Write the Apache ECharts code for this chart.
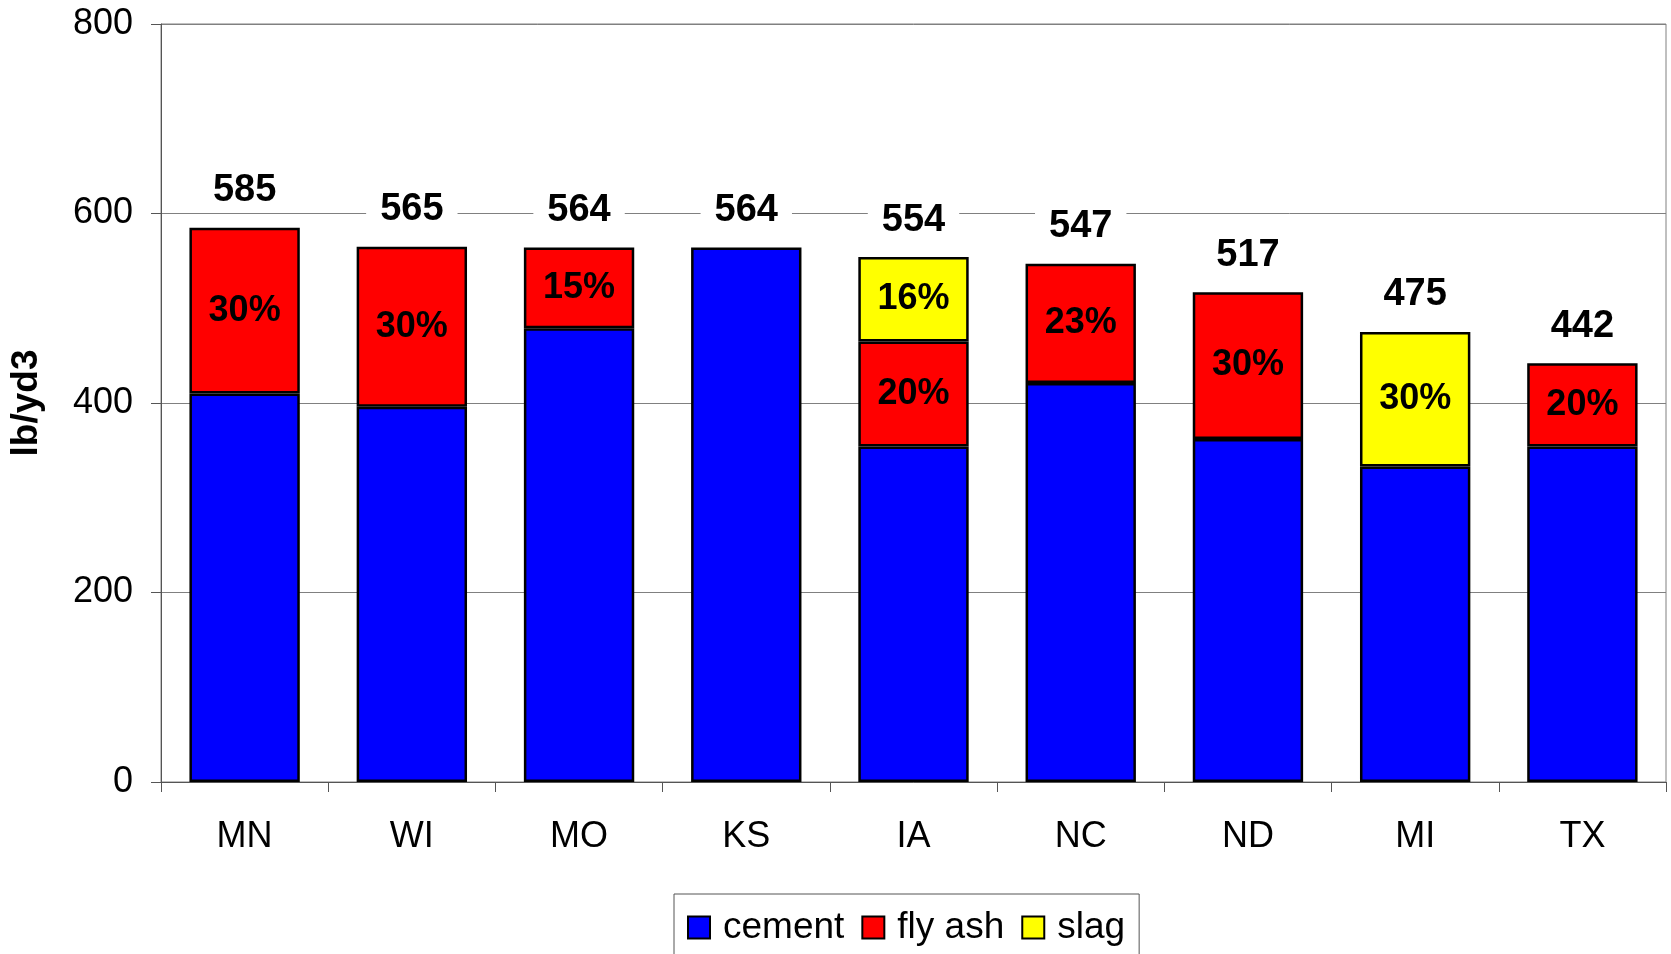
<!DOCTYPE html>
<html>
<head>
<meta charset="utf-8">
<script src="https://cdn.jsdelivr.net/npm/echarts@6/dist/echarts.min.js"></script>
<style>
  html, body { margin: 0; padding: 0; background: #fff; }
  #chart { width: 1671px; height: 954px; }
</style>
</head>
<body>
<div id="chart"></div>
<script>
const categories = ['MN', 'WI', 'MO', 'KS', 'IA', 'NC', 'ND', 'MI', 'TX']
const cement = [410, 396, 479, 564, 354, 421, 362, 333, 354]
const flyAsh = [175, 169, 85, null, 111, 126, 155, null, 88]
const slag = [null, null, null, null, 89, null, null, 142, null]
const totals = [585, 565, 564, 564, 554, 547, 517, 475, 442]
const flyAshPct = ['30%', '30%', '15%', '', '20%', '23%', '30%', '', '20%']
const slagPct = ['', '', '', '', '16%', '', '', '30%', '']
const yTicks = [0, 200, 400, 600, 800]

const font = "'Liberation Sans', Arial, sans-serif"
const boldFont = "'Liberation Sans Narrow', 'Arial Narrow', 'Liberation Sans', Arial, sans-serif"

const pctLabel = (list) => ({
  show: true,
  position: 'inside',
  fontFamily: boldFont,
  fontWeight: 'bold',
  fontSize: 36,
  color: '#000',
  formatter: (p) => list[p.dataIndex]
})

const segStyle = (color) => ({
  color: color,
  borderColor: '#000',
  borderWidth: 2.5
})

const mChart = echarts.init(document.getElementById('chart'))
const options = {
  animation: false,
  textStyle: { fontFamily: font },
  grid: {
    left: 160,
    right: 5,
    top: 24,
    bottom: 172,
    show: true,
    borderColor: '#808080',
    borderWidth: 1
  },
  legend: {
    data: ['cement', 'fly ash', 'slag'],
    left: 674,
    top: 894,
    padding: [15, 14, 14, 13],
    icon: 'rect',
    itemWidth: 22,
    itemHeight: 22,
    itemGap: 17,
    borderColor: '#555',
    borderWidth: 1,
    itemStyle: { borderColor: '#000', borderWidth: 2 },
    textStyle: { fontSize: 37, color: '#000', fontFamily: font, padding: [0, 0, 0, 8] }
  },
  xAxis: {
    type: 'category',
    data: categories,
    axisLine: { lineStyle: { color: '#555', width: 1 } },
    axisTick: { show: true, length: 10, lineStyle: { color: '#555' } },
    axisLabel: { fontSize: 36, color: '#000', margin: 37, interval: 0 }
  },
  yAxis: {
    type: 'value',
    min: yTicks[0],
    max: yTicks[yTicks.length - 1],
    interval: 200,
    name: 'lb/yd3',
    nameLocation: 'middle',
    nameGap: 116,
    nameTextStyle: { fontSize: 37, fontWeight: 'bold', color: '#000' },
    axisLine: { show: true, lineStyle: { color: '#555', width: 1 } },
    axisTick: { show: true, length: 10, lineStyle: { color: '#555' } },
    axisLabel: { fontSize: 36, color: '#000', margin: 28 },
    splitLine: { lineStyle: { color: '#808080', width: 1 } }
  },
  series: [{
    name: 'cement',
    type: 'bar',
    stack: 'mix',
    barWidth: '66%',
    itemStyle: segStyle('#0000ff'),
    data: cement
  }, {
    name: 'fly ash',
    type: 'bar',
    stack: 'mix',
    itemStyle: segStyle('#ff0000'),
    label: pctLabel(flyAshPct),
    data: flyAsh
  }, {
    name: 'slag',
    type: 'bar',
    stack: 'mix',
    itemStyle: segStyle('#ffff00'),
    label: pctLabel(slagPct),
    data: slag
  }, {
    name: 'total',
    type: 'scatter',
    symbolSize: 0,
    z: 5,
    itemStyle: { opacity: 1, color: '#000' },
    label: {
      show: true,
      position: 'top',
      distance: 16,
      fontFamily: boldFont,
      fontWeight: 'bold',
      fontSize: 38,
      color: '#000',
      opacity: 1,
      backgroundColor: '#fff',
      padding: [2, 14]
    },
    data: totals
  }]
}
mChart.setOption(options)
</script>
</body>
</html>
